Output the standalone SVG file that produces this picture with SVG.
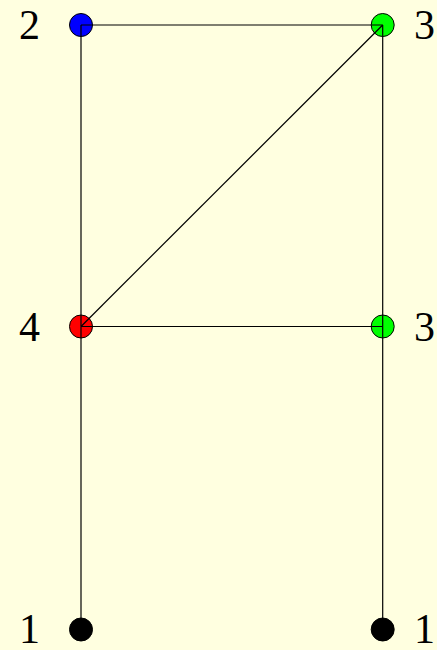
<svg xmlns="http://www.w3.org/2000/svg" width="437" height="650" viewBox="0 0 437 650">
<style>
.n{stroke:#000;stroke-width:1}
.e{stroke:#000;stroke-width:1.2;fill:none}
.t{font-family:"Liberation Serif","Times New Roman",serif;font-size:42px;fill:#000}
</style>
<rect width="437" height="650" fill="#ffffe0"/>
<g id="n2"><circle class="n" cx="81" cy="25" r="11.5" fill="#0000ff"/><text class="t" x="19" y="39">2</text></g>
<g id="n3a"><circle class="n" cx="382.7" cy="25" r="11.5" fill="#00ff00"/><text class="t" x="414" y="39">3</text></g>
<g id="n4"><circle class="n" cx="81" cy="326.5" r="11.5" fill="#ff0000"/><text class="t" x="19" y="341">4</text></g>
<g id="n3b"><circle class="n" cx="382.7" cy="326.5" r="11.5" fill="#00ff00"/><text class="t" x="414" y="341">3</text></g>
<g id="n1a"><circle class="n" cx="81" cy="629.5" r="11.5" fill="#000"/><text class="t" x="19" y="643">1</text></g>
<g id="n1b"><circle class="n" cx="382.7" cy="629.5" r="11.5" fill="#000"/><text class="t" x="414" y="643">1</text></g>
<g id="edges">
<line class="e" x1="81" y1="25" x2="382.7" y2="25"/>
<line class="e" x1="81" y1="25" x2="81" y2="326.5"/>
<line class="e" x1="81" y1="326.5" x2="81" y2="629.5"/>
<line class="e" x1="81" y1="326.5" x2="382.7" y2="25"/>
<line class="e" x1="81" y1="326.5" x2="382.7" y2="326.5"/>
<line class="e" x1="382.7" y1="25" x2="382.7" y2="326.5"/>
<line class="e" x1="382.7" y1="326.5" x2="382.7" y2="629.5"/>
</g>
</svg>
